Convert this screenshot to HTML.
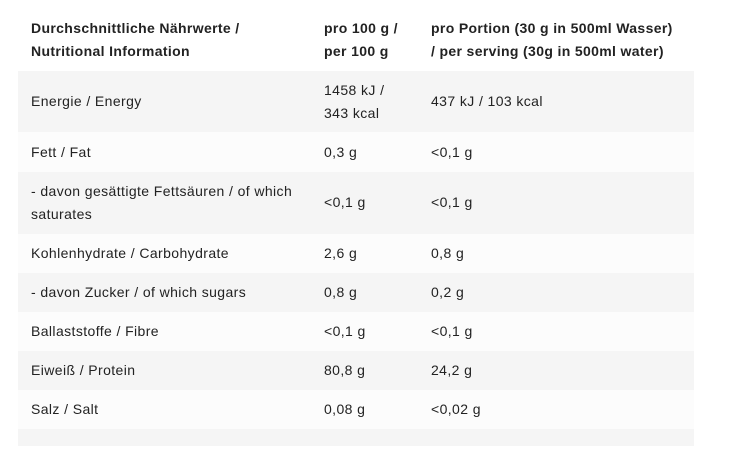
<!DOCTYPE html>
<html><head><meta charset="utf-8"><style>
body{margin:0;background:#fff;width:735px;height:451px;overflow:hidden;font-family:"Liberation Sans",sans-serif;color:#222;font-size:14px;letter-spacing:0.4px}
.r{position:absolute;left:18px;width:676px}
.g{background:#f5f5f5}.l{background:#fcfcfc}
.c{position:absolute;line-height:23px;white-space:nowrap}
.a{left:13px}.b{left:306px}.d{left:413px}
.h{font-weight:bold;letter-spacing:0.35px}
</style></head><body>
<div class="r" style="top:0;height:71px">
<div class="c a h" style="top:17px">Durchschnittliche Nährwerte /<br>Nutritional Information</div>
<div class="c b h" style="top:17px">pro 100 g /<br>per 100 g</div>
<div class="c d h" style="top:17px">pro Portion (30 g in 500ml Wasser)<br>/ per serving (30g in 500ml water)</div>
</div>
<div class="r g" style="top:71px;height:61px">
<div class="c a" style="top:19px">Energie / Energy</div>
<div class="c b" style="top:8px">1458 kJ /<br>343 kcal</div>
<div class="c d" style="top:19px">437 kJ / 103 kcal</div>
</div>
<div class="r l" style="top:132px;height:40px">
<div class="c a" style="top:9px">Fett / Fat</div><div class="c b" style="top:9px">0,3 g</div><div class="c d" style="top:9px">&lt;0,1 g</div>
</div>
<div class="r g" style="top:172px;height:62px">
<div class="c a" style="top:8px">- davon gesättigte Fettsäuren / of which<br>saturates</div>
<div class="c b" style="top:19px">&lt;0,1 g</div><div class="c d" style="top:19px">&lt;0,1 g</div>
</div>
<div class="r l" style="top:234px;height:39px">
<div class="c a" style="top:8px">Kohlenhydrate / Carbohydrate</div><div class="c b" style="top:8px">2,6 g</div><div class="c d" style="top:8px">0,8 g</div>
</div>
<div class="r g" style="top:273px;height:39px">
<div class="c a" style="top:8px">- davon Zucker / of which sugars</div><div class="c b" style="top:8px">0,8 g</div><div class="c d" style="top:8px">0,2 g</div>
</div>
<div class="r l" style="top:312px;height:39px">
<div class="c a" style="top:8px">Ballaststoffe / Fibre</div><div class="c b" style="top:8px">&lt;0,1 g</div><div class="c d" style="top:8px">&lt;0,1 g</div>
</div>
<div class="r g" style="top:351px;height:39px">
<div class="c a" style="top:8px">Eiweiß / Protein</div><div class="c b" style="top:8px">80,8 g</div><div class="c d" style="top:8px">24,2 g</div>
</div>
<div class="r l" style="top:390px;height:39px">
<div class="c a" style="top:8px">Salz / Salt</div><div class="c b" style="top:8px">0,08 g</div><div class="c d" style="top:8px">&lt;0,02 g</div>
</div>
<div class="r g" style="top:429px;height:17px"></div>
</body></html>
